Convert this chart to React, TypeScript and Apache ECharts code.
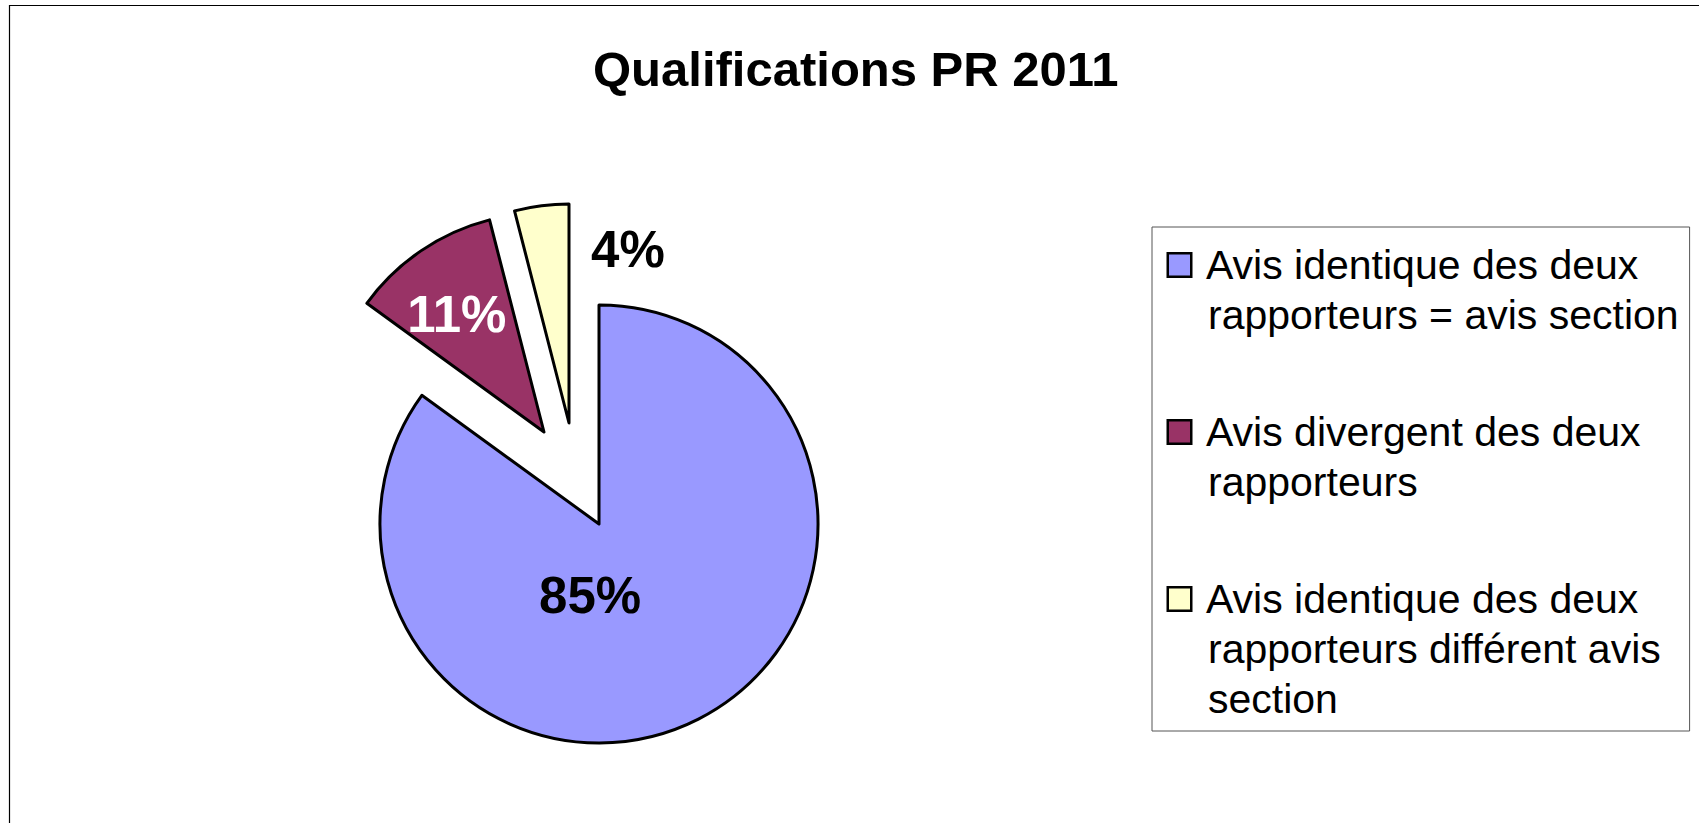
import React, { useEffect, useRef } from 'react';
import * as echarts from 'echarts';

// ---- data ----
const titleText = 'Qualifications PR 2011';
const categories = [
  'Avis identique des deux\nrapporteurs = avis section',
  'Avis divergent des deux\nrapporteurs',
  'Avis identique des deux\nrapporteurs différent avis\nsection',
];
const values = [85, 11, 4];
const colors = ['#9999FF', '#993366', '#FFFFCC'];
const labelColors = ['#000000', '#FFFFFF', '#000000'];

// ---- layout constants ----
const FONT = '"Liberation Sans", Arial, Helvetica, sans-serif';
const PIE_CENTER = [599, 524];
const PIE_RADIUS = 219;
// explosion offset of each slice (Excel-like exploded pie)
const EXPLODE = [
  [0, 0],
  [-55, -92],
  [-30, -101],
];
// shift of each percentage label from ECharts' default inside position
const LABEL_SHIFT = [
  [-60, -29],
  [-24, -24],
  [73, -62],
];

export default function App() {
  const ref = useRef<HTMLDivElement>(null);

  useEffect(() => {
    if (!ref.current) return;
    const chart = echarts.init(ref.current, undefined, { renderer: 'svg' });

    const rich: Record<string, any> = {
      g: { width: 16, height: 23, lineHeight: 50 },
      ind: { width: 39, height: 23, lineHeight: 50 },
      t: { fontSize: 41, lineHeight: 50, fontFamily: FONT, color: '#000' },
    };
    colors.forEach((c, i) => {
      rich['m' + i] = {
        width: 21,
        height: 21,
        lineHeight: 50,
        backgroundColor: c,
        borderColor: '#000',
        borderWidth: 2.5,
      };
    });

    const series = values.map((_, k) => ({
      type: 'pie',
      name: 'slice' + k,
      center: [PIE_CENTER[0] + EXPLODE[k][0], PIE_CENTER[1] + EXPLODE[k][1]],
      radius: PIE_RADIUS,
      startAngle: 90,
      clockwise: true,
      silent: true,
      emphasis: { disabled: true },
      avoidLabelOverlap: false,
      label: {
        show: true,
        position: 'inside',
        formatter: '{d}%',
        fontSize: 51,
        fontWeight: 'bold',
        fontFamily: FONT,
      },
      labelLine: { show: false },
      labelLayout: { dx: LABEL_SHIFT[k][0], dy: LABEL_SHIFT[k][1] },
      data: categories.map((name, i) =>
        i === k
          ? {
              name,
              value: values[i],
              itemStyle: { color: colors[i], borderColor: '#000', borderWidth: 3 },
              label: { show: true, color: labelColors[i] },
            }
          : {
              name,
              value: values[i],
              itemStyle: { color: 'rgba(0,0,0,0)', borderWidth: 0 },
              label: { show: false },
            }
      ),
    }));

    chart.setOption({
      animation: false,
      backgroundColor: '#ffffff',
      title: {
        text: titleText,
        left: 588,
        top: 39,
        textStyle: { fontSize: 49, fontWeight: 'bold', fontFamily: FONT, color: '#000' },
      },
      legend: {
        orient: 'vertical',
        left: 1152,
        top: 227,
        data: categories,
        icon: 'none',
        itemWidth: 0,
        itemHeight: 0,
        itemGap: 67,
        padding: [13, 11, 7, 12],
        backgroundColor: '#ffffff',
        borderColor: '#555555',
        borderWidth: 1,
        selectedMode: false,
        formatter: (name: string) => {
          const i = categories.indexOf(name);
          return name
            .split('\n')
            .map((l, j) => (j === 0 ? `{m${i}|}{g|}{t|${l}}` : `{ind|}{t|${l}}`))
            .join('\n');
        },
        textStyle: { fontSize: 41, lineHeight: 50, fontFamily: FONT, color: '#000', rich },
      },
      graphic: [
        {
          type: 'rect',
          x: 9.5,
          y: 5.5,
          z: -10,
          silent: true,
          shape: { x: 0, y: 0, width: 1800, height: 900 },
          style: { fill: 'none', stroke: '#000', lineWidth: 1.2 },
        },
      ],
      series,
    });

    return () => chart.dispose();
  }, []);

  return (
    <div
      ref={ref}
      style={{ position: 'absolute', left: 0, top: 0, width: 1699, height: 823 }}
    />
  );
}
